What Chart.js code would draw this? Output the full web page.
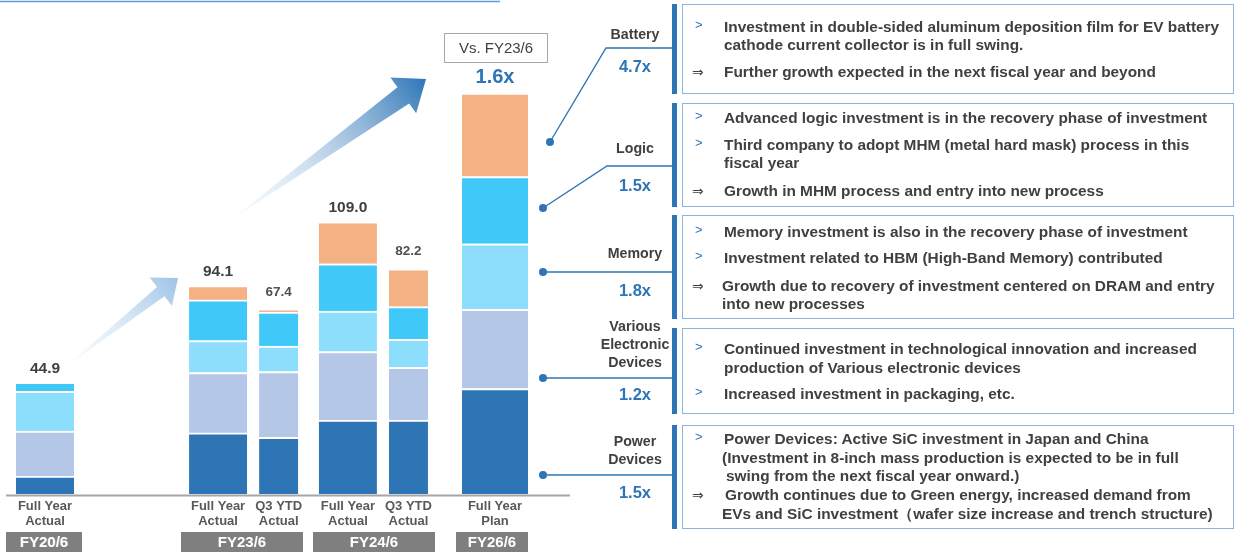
<!DOCTYPE html>
<html>
<head>
<meta charset="utf-8">
<script src="https://cdn.jsdelivr.net/npm/chart.js@4.4.1/dist/chart.umd.min.js"></script>
<style>
  html, body { margin: 0; padding: 0; background: #fff; }
  body { width: 1236px; height: 552px; position: relative; overflow: hidden;
         font-family: 'Liberation Sans', Arial, sans-serif; color: #404040; }
  #chartWrap { position: absolute; left: 0; top: 0; width: 580px; height: 552px; }
  .abs { position: absolute; white-space: nowrap; }
  .fy { position: absolute; top: 532px; height: 20px; line-height: 20px; background: #7F7F7F;
        color: #fff; font-weight: bold; font-size: 15px; text-align: center; }
  .seg { position: absolute; left: 588px; width: 94px; text-align: center; font-weight: bold;
         font-size: 14.2px; line-height: 18px; color: #404040; }
  .mult { color: #2E75B6; font-size: 16.5px; }
  .box { position: absolute; left: 682px; width: 552px; border: 1.5px solid #8EB4DC; box-sizing: border-box; }
  .accent { position: absolute; left: 672px; width: 4.5px; background: #2E75B6; }
  .ln { position: absolute; white-space: nowrap; font-weight: bold; font-size: 15.4px; line-height: 18px; color: #404040; }
  .mk { position: absolute; font-size: 14px; line-height: 18px; }
</style>
</head>
<body>
<div id="chartWrap"><canvas id="capex"></canvas></div>
<svg id="deco" class="abs" width="1236" height="552" style="left:0;top:0;pointer-events:none"></svg>
<div id="notes"></div>
<script>
// bars, left to right
const barNames = ['FY20/6 Full Year Actual', 'FY23/6 Full Year Actual', 'FY23/6 Q3 YTD Actual',
                  'FY24/6 Full Year Actual', 'FY24/6 Q3 YTD Actual', 'FY26/6 Full Year Plan'];
const barLabels = [['Full Year', 'Actual'], ['Full Year', 'Actual'], ['Q3 YTD', 'Actual'],
                   ['Full Year', 'Actual'], ['Q3 YTD', 'Actual'], ['Full Year', 'Plan']];
const barKind = ['full', 'full', 'q3', 'full', 'q3', 'plan'];
const fiscalYears = ['FY20/6', 'FY23/6', 'FY24/6', 'FY26/6'];
const totalLabels = ['44.9', '94.1', '67.4', '109.0', '82.2', '1.6x'];

// segment heights
const power   = [7.2, 24.5, 22.7, 29.6, 29.6, 42.3];
const various = [18.0, 24.2, 26.4, 27.5, 21.2, 31.7];
const memory  = [16.0, 12.8, 10.2, 16.2, 11.2, 26.3];
const logic   = [3.6, 16.3, 13.6, 19.0, 13.1, 27.0];
const battery = [0, 5.8, 1.1, 16.8, 15.2, 33.4];

// growth vs FY23/6 per segment
const segNames = [['Battery'], ['Logic'], ['Memory'], ['Various', 'Electronic', 'Devices'], ['Power', 'Devices']];
const segGrowth = ['4.7x', '1.5x', '1.8x', '1.2x', '1.5x'];

const notes = [
  [['>', 'Investment in double-sided aluminum  deposition film for EV battery'],
   ['', 'cathode current collector is in full swing.'],
   ['⇒', 'Further growth expected in the next fiscal year and beyond']],
  [['>', 'Advanced logic investment is in the recovery phase of investment'],
   ['>', 'Third company  to adopt MHM (metal hard mask) process in this'],
   ['', 'fiscal year'],
   ['⇒', 'Growth in MHM process and entry into new process']],
  [['>', 'Memory investment is also in the recovery phase of investment'],
   ['>', 'Investment related to HBM (High-Band Memory) contributed'],
   ['⇒', 'Growth due to recovery of investment centered on DRAM and  entry'],
   ['', 'into new processes']],
  [['>', 'Continued investment in technological innovation and increased'],
   ['', 'production of Various  electronic devices'],
   ['>', 'Increased investment in packaging, etc.']],
  [['>', 'Power Devices: Active SiC investment in Japan  and China'],
   ['', '(Investment in 8-inch mass  production is  expected to be in full'],
   ['', ' swing from  the next fiscal year  onward.)'],
   ['⇒', 'Growth continues due to Green energy, increased demand from'],
   ['', 'EVs  and  SiC investment（wafer size increase and trench structure)']]
];

// ---- layout (not data) ----
const slotOf = [0, 20, 27, 35, 42, 52];
const nSlots = 53;
const thickness = { full: 58, q3: 39, plan: 66 };
const segColors = ['#2E75B6', '#B4C7E7', '#8DDEFD', '#40C9F8', '#F4B183'];
const segSeries = [power, various, memory, logic, battery];

const slotLabels = [];
for (let i = 0; i < nSlots; i++) slotLabels.push('');
slotOf.forEach((s, i) => slotLabels[s] = barNames[i]);

let datasets = [];
segSeries.forEach((series, si) => {
    for (const kind of ['full', 'q3', 'plan']) {
        const data = new Array(nSlots).fill(null);
        series.forEach((v, i) => {
            if (barKind[i] === kind) data[slotOf[i]] = v;
        });
        datasets.push({
            data: data,
            stack: kind,
            grouped: false,
            barThickness: thickness[kind],
            backgroundColor: segColors[si],
            borderColor: '#ffffff',
            borderWidth: { top: 2, bottom: 0, left: 0, right: 0 },
            borderSkipped: 'start',
            clip: false
        });
    }
});

const barText = {
    id: 'barText',
    afterDatasetsDraw(chart) {
        const ctx = chart.ctx;
        const xs = chart.scales.x, ys = chart.scales.y;
        const base = ys.getPixelForValue(0);
        ctx.save();
        // base line
        ctx.strokeStyle = '#A6A6A6';
        ctx.lineWidth = 2;
        ctx.beginPath();
        ctx.moveTo(6, base + 1.5);
        ctx.lineTo(570, base + 1.5);
        ctx.stroke();

        ctx.textAlign = 'center';
        ctx.textBaseline = 'middle';
        slotOf.forEach((s, i) => {
            const x = xs.getPixelForValue(s);
            const sum = segSeries.reduce((a, ser) => a + ser[i], 0);
            const top = ys.getPixelForValue(sum);
            if (barKind[i] === 'plan') {
                ctx.fillStyle = '#2E75B6';
                ctx.font = 'bold 20px "Liberation Sans", Arial';
                ctx.fillText(totalLabels[i], x, top - 16);
            } else if (barKind[i] === 'q3') {
                ctx.fillStyle = '#505050';
                ctx.font = 'bold 13.5px "Liberation Sans", Arial';
                ctx.fillText(totalLabels[i], x, top - 17);
            } else {
                ctx.fillStyle = '#404040';
                ctx.font = 'bold 15.5px "Liberation Sans", Arial';
                ctx.fillText(totalLabels[i], x, top - 14);
            }
            ctx.fillStyle = '#595959';
            ctx.font = 'bold 13px "Liberation Sans", Arial';
            ctx.fillText(barLabels[i][0], x, base + 12);
            ctx.fillText(barLabels[i][1], x, base + 27);
        });
        ctx.restore();
    }
};

new Chart(
    document.getElementById('capex'),
    {
        type: 'bar',
        data: {
            labels: slotLabels,
            datasets: datasets
        },
        options: {
            responsive: true,
            maintainAspectRatio: false,
            animation: false,
            events: [],
            layout: { padding: { left: 45, right: 85, top: 45, bottom: 58 } },
            plugins: { legend: { display: false }, tooltip: { enabled: false } },
            scales: {
                x: { display: false, stacked: true, offset: false },
                y: { display: false, stacked: true, min: 0, max: 180 }
            }
        },
        plugins: [barText]
    }
);

// ---- decorations: arrows, leader lines ----
const svgNS = 'http://www.w3.org/2000/svg';
const deco = document.getElementById('deco');
function el(name, attrs, parent) {
    const e = document.createElementNS(svgNS, name);
    for (const k in attrs) e.setAttribute(k, attrs[k]);
    (parent || deco).appendChild(e);
    return e;
}
const defs = el('defs', {});
function grad(id, x1, y1, x2, y2, c1, o1, c2) {
    const g = el('linearGradient', { id: id, gradientUnits: 'userSpaceOnUse', x1: x1, y1: y1, x2: x2, y2: y2 }, defs);
    el('stop', { offset: '0', 'stop-color': c1, 'stop-opacity': o1 }, g);
    el('stop', { offset: '1', 'stop-color': c2, 'stop-opacity': 1 }, g);
}
function arrow(id, tx, ty, hx, hy, headLen, bodyW, headW, c1, c2) {
    const dx = hx - tx, dy = hy - ty, len = Math.hypot(dx, dy);
    const ux = dx / len, uy = dy / len, px = -uy, py = ux;
    const bx = hx - ux * headLen, by = hy - uy * headLen;
    grad(id, tx, ty, hx, hy, c1, 0.15, c2);
    const pts = [
        [tx, ty],
        [bx + px * bodyW, by + py * bodyW],
        [bx + px * headW, by + py * headW],
        [hx, hy],
        [bx - px * headW, by - py * headW],
        [bx - px * bodyW, by - py * bodyW]
    ];
    el('polygon', { points: pts.map(p => p.join(',')).join(' '), fill: 'url(#' + id + ')' });
}
arrow('g1', 68, 365, 178, 278, 22, 6, 18, '#DDEBF7', '#9DC3E6');
arrow('g2', 232, 219, 426, 79, 28, 10, 22, '#DDEBF7', '#2E75B6');

el('line', { x1: 0, y1: 1.5, x2: 500, y2: 1.5, stroke: '#5B9BD5', 'stroke-width': 1.5 });

const leaders = [
    [[550, 142], [606, 48], [672, 48]],
    [[543, 208], [607, 166], [672, 166]],
    [[543, 272], [672, 272]],
    [[543, 378], [672, 378]],
    [[543, 475], [672, 475]]
];
leaders.forEach(l => {
    el('polyline', { points: l.map(p => p.join(',')).join(' '), fill: 'none', stroke: '#2E75B6', 'stroke-width': 1.4 });
    el('circle', { cx: l[0][0], cy: l[0][1], r: 4, fill: '#2E75B6' });
});

// ---- html text ----
const wrap = document.getElementById('notes');
function div(cls, style, text) {
    const d = document.createElement('div');
    d.className = cls;
    d.style.cssText = style;
    if (text !== undefined) d.textContent = text;
    wrap.appendChild(d);
    return d;
}
const fyBoxes = [[6, 76], [181, 122], [313, 122], [456, 72]];
fiscalYears.forEach((f, i) => div('fy', `left:${fyBoxes[i][0]}px;width:${fyBoxes[i][1]}px`, f));

div('abs', 'left:444px;top:33px;width:104px;height:30px;border:1px solid #A6A6A6;box-sizing:border-box;' +
    'text-align:center;line-height:28px;font-size:15px;color:#404040', 'Vs. FY23/6');

const segY = [[34, 66], [148, 185], [253, 290], [326, 394], [441, 492]];
segNames.forEach((names, i) => {
    names.forEach((n, j) => div('seg', `top:${segY[i][0] - 9 + j * 18}px`, n));
    div('seg mult', `top:${segY[i][1] - 9}px`, segGrowth[i]);
});

const boxY = [[4, 94], [103, 207], [215, 319], [328, 414], [425, 529]];
const lineY = [[27, 45, 72], [118, 145, 163, 191], [232, 258, 286, 304], [349, 368, 394], [439, 458, 476, 495, 514]];
const lineX = [[724, 724, 724], [724, 724, 724, 724], [724, 724, 722, 722], [724, 724, 724], [724, 722, 726, 725, 722]];
notes.forEach((box, bi) => {
    div('accent', `top:${boxY[bi][0]}px;height:${boxY[bi][1] - boxY[bi][0]}px`);
    div('box', `top:${boxY[bi][0]}px;height:${boxY[bi][1] - boxY[bi][0]}px`);
    box.forEach((ln, li) => {
        const y = lineY[bi][li] - 9;
        if (ln[0] === '>') div('mk', `left:695px;top:${y - 2}px;color:#2E75B6;font-size:13px`, '>');
        if (ln[0] === '⇒') div('mk', `left:692px;top:${y}px;color:#404040;font-family:'DejaVu Sans'`, '⇒');
        div('ln', `left:${lineX[bi][li]}px;top:${y}px`, ln[1]);
    });
});
</script>
</body>
</html>
